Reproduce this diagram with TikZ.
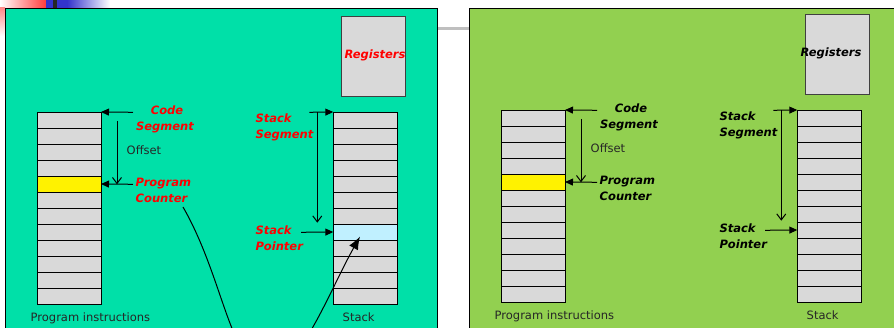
\documentclass[tikz,border=0pt]{standalone}
\usepackage{fontspec}
\setmainfont{DejaVu Sans}
\usetikzlibrary{arrows.meta}
\definecolor{leftbg}{RGB}{0,224,168}
\definecolor{rightbg}{RGB}{146,208,80}
\definecolor{cellgray}{RGB}{217,217,217}
\definecolor{spcyan}{RGB}{192,240,255}
\definecolor{lblred}{RGB}{255,0,0}
\definecolor{decoblue}{RGB}{51,51,204}
\definecolor{decored}{RGB}{255,60,60}

\newcommand{\mypanel}[5]{%
 \begin{scope}[shift={(#2,#3)}]
  \foreach \i in {0,...,11} {
    \node[cellbox] (#1p\i) at (37,112+16*\i) {};
    \node[cellbox] (#1s\i) at (333.3,112+16*\i) {};
  }
  \node[cellbox, fill=yellow] (#1pc) at (37,176) {};
  \node[regbox] (#1reg) at (341,16.3) {};
  \node[lbl, text=#4, anchor=base] (#1regt) at (#5,58.3) {Registers};
  % code segment
  \coordinate (#1csa) at (133,112.3);
  \draw[ptr] (#1csa) -- (#1p0.north east);
  \node[lbl, text=#4, anchor=base] (#1cs1) at (167,114.3) {Code};
  \node[lbl, text=#4, anchor=base] (#1cs2) at (165,130.3) {Segment};
  % offset
  \coordinate (#1ofa) at (117,121);
  \coordinate (#1ofb) at (117,184.3);
  \draw[offs] (#1ofa) -- (#1ofb);
  \node[plain, anchor=base west] (#1off) at (126.5,154.3) {Offset};
  % program counter
  \coordinate (#1pca) at (133,184.3);
  \draw[ptr] (#1pca) -- (#1pc.east);
  \node[lbl, text=#4, anchor=base west] (#1pc1) at (135.5,186.3) {Program};
  \node[lbl, text=#4, anchor=base west] (#1pc2) at (135.5,202.3) {Counter};
  % stack segment
  \coordinate (#1ssa) at (309.3,112.3);
  \draw[ptr] (#1ssa) -- (#1s0.north west);
  \coordinate (#1ssv) at (317.3,112.3);
  \coordinate (#1ssw) at (317.3,222.7);
  \draw[offs] (#1ssv) -- (#1ssw);
  \node[lbl, text=#4, anchor=base west] (#1ss1) at (255.3,122.3) {Stack};
  \node[lbl, text=#4, anchor=base west] (#1ss2) at (255.3,138.3) {Segment};
  % stack pointer
  \coordinate (#1spa) at (301,232.3);
  \draw[ptr] (#1spa) -- (#1s7.west);
  \node[lbl, text=#4, anchor=base west] (#1sp1) at (255.3,234.3) {Stack};
  \node[lbl, text=#4, anchor=base west] (#1sp2) at (255.3,250.3) {Pointer};
  % captions
  \node[plain, anchor=base west] (#1cap1) at (30.5,321.5) {Program instructions};
  \node[plain, anchor=base west] (#1cap2) at (342.5,321.5) {Stack};
 \end{scope}}

\begin{document}
\begin{tikzpicture}[x=1pt,y=-1pt,
 cellbox/.style={draw=black, line width=0.9pt, fill=cellgray, minimum width=64pt, minimum height=16pt, inner sep=0pt, outer sep=0pt, anchor=north west},
 regbox/.style={draw=black!75, line width=1pt, fill=cellgray, minimum width=64pt, minimum height=80.4pt, inner sep=0pt, outer sep=0pt, anchor=north west},
 lbl/.style={font=\fontsize{11.5}{16}\selectfont\bfseries\itshape, inner sep=0pt},
 plain/.style={font=\fontsize{11.5}{16}\selectfont, inner sep=0pt, text=black!85},
 ptr/.style={line width=1pt, -{Triangle[length=8pt,width=7pt]}},
 offs/.style={line width=1pt, -{Straight Barb[length=6pt,width=9pt]}},
 curv/.style={line width=1pt, -{Latex[length=13pt,width=10pt]}},
]
\clip (0,0) rectangle (894,328);
\fill[white] (0,0) rectangle (894,328);
% top-left decoration
\shade[left color=white, right color=decored] (0,0) rectangle (46,8);
\shade[top color=decored!60!white, bottom color=white] (0,8) rectangle (5,36);
\fill[decoblue] (46,0) rectangle (67,8);
\shade[left color=decoblue, right color=white] (67,0) rectangle (110,8);
\fill[black!85] (53,0) rectangle (57,8);
% grey rule between panels
\draw[black!25, line width=3pt] (437,29) -- (469,29);
% panels
\draw[fill=leftbg, line width=1pt] (5,8.3) rectangle (437,340);
\draw[fill=rightbg, line width=1pt] (469,8.3) rectangle (900,340);

\mypanel{L}{0}{0}{lblred}{375}
\node[cellbox, fill=spcyan] (Lspc) at (333.3,224) {};
\mypanel{R}{464}{-2}{black}{367}

% curved connector (left panel only)
\coordinate (Lcva) at (183,207);
\coordinate (Lcvb) at (270,370);
\coordinate (Lcvc) at (360,236.5);
\draw[curv] (Lcva) .. controls (225,280) and (230,370) .. (Lcvb)
                  .. controls (300,370) and (330,290) .. (Lcvc);
\end{tikzpicture}
\end{document}
